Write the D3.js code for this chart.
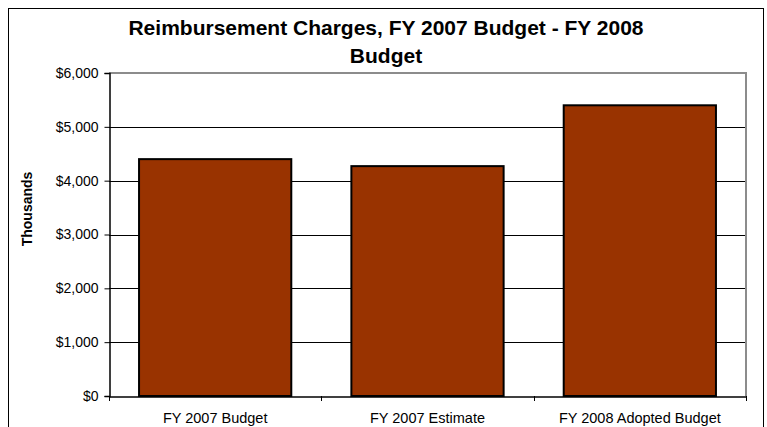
<!DOCTYPE html>
<html>
<head>
<meta charset="utf-8">
<script src="https://cdn.jsdelivr.net/npm/d3@7"></script>
<style>
  html, body { margin: 0; padding: 0; background: #fff; }
  svg { display: block; }
</style>
</head>
<body>
<svg id="chart" width="767" height="427"></svg>
<script>
// Reimbursement charges by budget stage (thousands of dollars)
const categories = ["FY 2007 Budget", "FY 2007 Estimate", "FY 2008 Adopted Budget"];
const values = [4400, 4270, 5400];
const yTicks = [0, 1000, 2000, 3000, 4000, 5000, 6000];
const titleLines = ["Reimbursement Charges, FY 2007 Budget - FY 2008", "Budget"];
const yLabel = "Thousands";

const svg = d3.select("#chart");
const W = 767, H = 427;
const plot = { left: 109, right: 746, top: 73, bottom: 396 };
const font = "'Liberation Sans', Arial, sans-serif";

// outer frame (runs off the bottom edge)
svg.append("rect")
  .attr("x", 8.5).attr("y", 8.5)
  .attr("width", 755).attr("height", H + 10)
  .attr("fill", "#fff").attr("stroke", "#000").attr("stroke-width", 1);

// title
svg.append("g").selectAll("text").data(titleLines).join("text")
  .attr("x", 386)
  .attr("y", (d, i) => 35 + i * 28)
  .attr("text-anchor", "middle")
  .attr("font-family", font)
  .attr("font-weight", "bold")
  .attr("font-size", 21)
  .attr("fill", "#000")
  .text(d => d);

const x = d3.scaleBand().domain(categories).range([plot.left, plot.right]).padding(0);
const y = d3.scaleLinear().domain([0, 6000]).range([plot.bottom, plot.top]);

// gridlines
svg.append("g").selectAll("line").data(yTicks.filter(t => t > 0 && t < 6000)).join("line")
  .attr("x1", plot.left).attr("x2", plot.right)
  .attr("y1", d => Math.round(y(d)) + 0.5).attr("y2", d => Math.round(y(d)) + 0.5)
  .attr("stroke", "#000").attr("stroke-width", 1);

// plot border: gray on top and right
svg.append("path")
  .attr("d", `M${plot.left},${plot.top} H${plot.right} V${plot.bottom}`)
  .attr("fill", "none").attr("stroke", "#8c8c8c").attr("stroke-width", 2);

// bars
const barFrac = 0.717;
svg.append("g").selectAll("rect").data(values).join("rect")
  .attr("x", (d, i) => x(categories[i]) + x.bandwidth() * (1 - barFrac) / 2)
  .attr("width", x.bandwidth() * barFrac)
  .attr("y", d => y(d))
  .attr("height", d => y(0) - y(d))
  .attr("fill", "#993300")
  .attr("stroke", "#000")
  .attr("stroke-width", 2);

// y axis
const yAxis = d3.axisLeft(y).tickValues(yTicks).tickSize(5).tickPadding(6)
  .tickFormat(d => "$" + d3.format(",")(d));
const gy = svg.append("g").attr("transform", `translate(${plot.left + 0.5},0)`).call(yAxis);
gy.select(".domain").attr("stroke", "#000").attr("stroke-width", 1.5);
gy.selectAll(".tick line").attr("stroke", "#000");
gy.selectAll(".tick text")
  .attr("font-family", font)
  .attr("font-size", 14).attr("fill", "#000");

// x axis
const xAxis = d3.axisBottom(x).tickSize(0).tickPadding(16);
const gx = svg.append("g").attr("transform", `translate(0,${plot.bottom + 0.5})`).call(xAxis);
gx.select(".domain").attr("stroke", "#000").attr("stroke-width", 1.5);
gx.selectAll(".tick text")
  .attr("font-family", font)
  .attr("font-size", 14.5).attr("fill", "#000");
// boundary ticks between categories
const bounds = categories.map(c => x(c)).concat([plot.right]);
svg.append("g").selectAll("line").data(bounds).join("line")
  .attr("x1", d => Math.round(d) + 0.5).attr("x2", d => Math.round(d) + 0.5)
  .attr("y1", plot.bottom).attr("y2", plot.bottom + 5)
  .attr("stroke", "#000");

// y axis title
svg.append("text")
  .attr("transform", `translate(32,209) rotate(-90)`)
  .attr("text-anchor", "middle")
  .attr("font-family", font)
  .attr("font-weight", "bold")
  .attr("font-size", 14)
  .attr("fill", "#000")
  .text(yLabel);
</script>
</body>
</html>
